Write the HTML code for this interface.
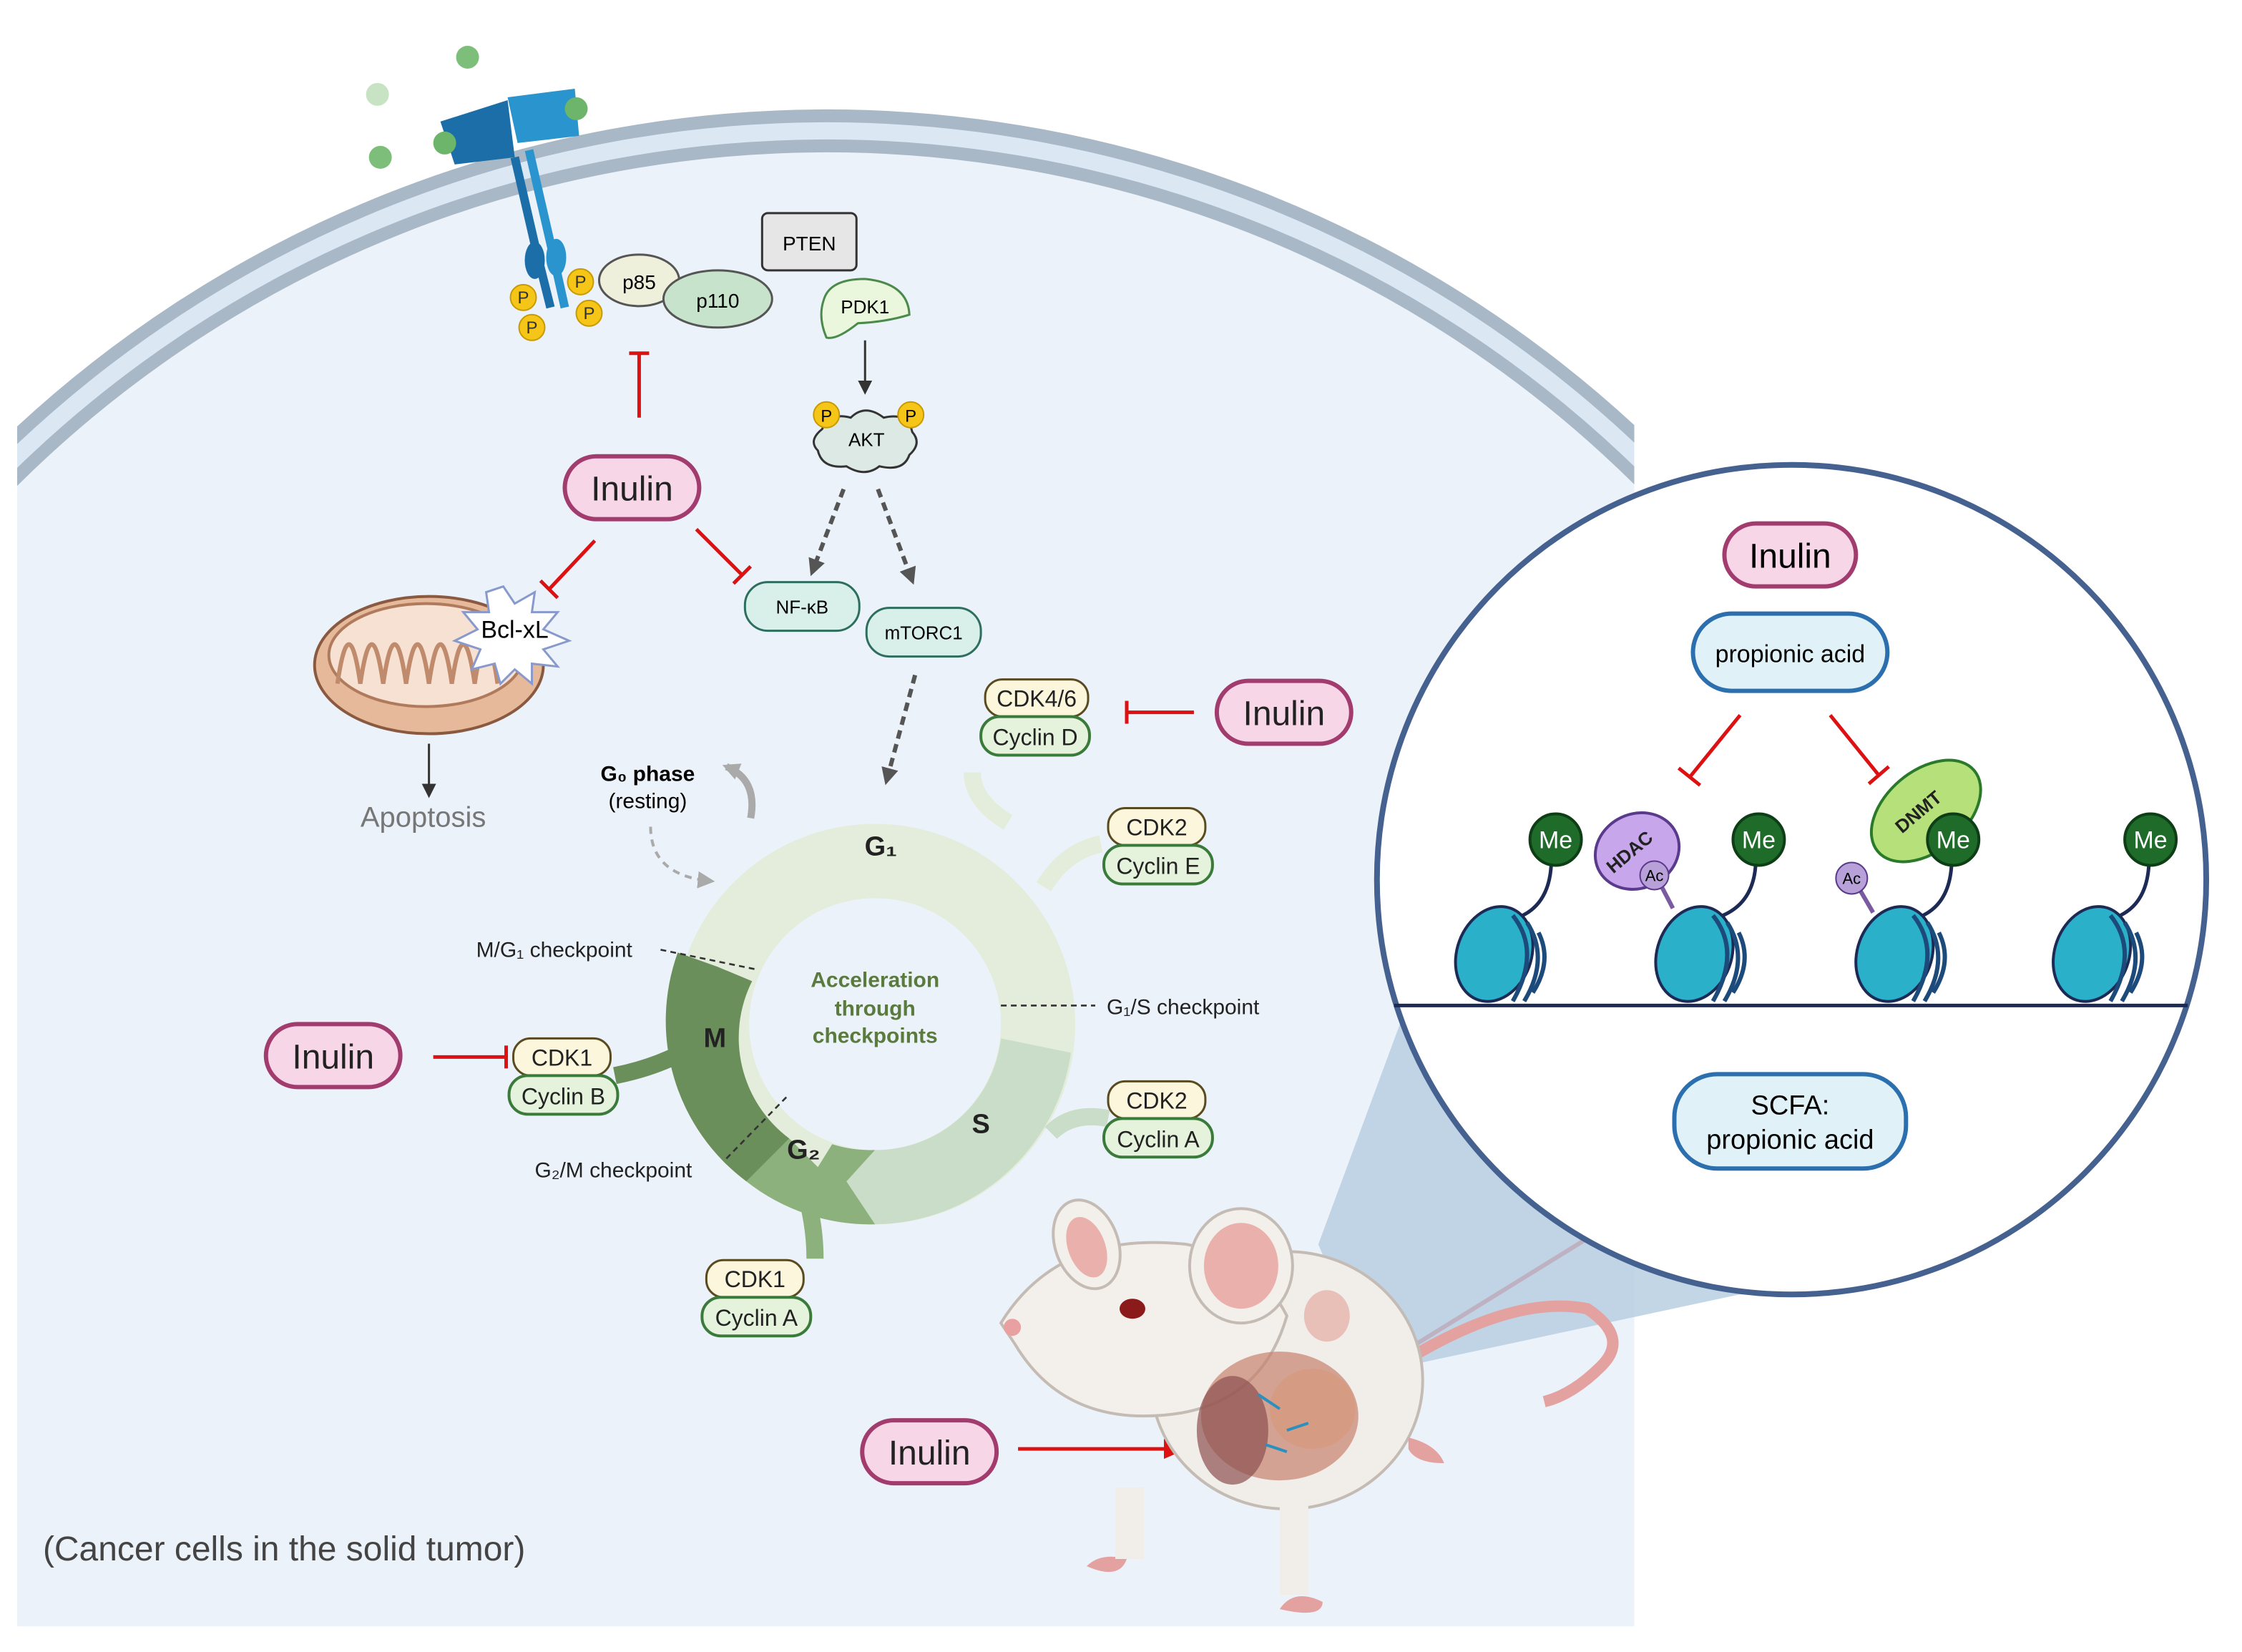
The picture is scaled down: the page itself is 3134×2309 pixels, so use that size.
<!DOCTYPE html>
<html><head><meta charset="utf-8"><style>
html,body{margin:0;padding:0;background:#fff;overflow:hidden;width:3134px;height:2309px}
svg{display:block}
text{font-family:"Liberation Sans",sans-serif}
</style></head><body>
<svg width="3134" height="2309" viewBox="0 0 1568 1155" preserveAspectRatio="none" xmlns="http://www.w3.org/2000/svg">
<defs>
<clipPath id="cellclip"><rect x="12" y="0" width="1131" height="1137"/></clipPath>
<marker id="ag" markerUnits="userSpaceOnUse" markerWidth="12" markerHeight="12" refX="9" refY="6" orient="auto"><path d="M0,0 L12,6 L0,12 z" fill="#555"/></marker>
<marker id="agl" markerUnits="userSpaceOnUse" markerWidth="12" markerHeight="12" refX="9" refY="6" orient="auto"><path d="M0,0 L12,6 L0,12 z" fill="#aaa"/></marker>
<marker id="ar" markerUnits="userSpaceOnUse" markerWidth="16" markerHeight="14" refX="12" refY="7" orient="auto"><path d="M0,0 L16,7 L0,14 z" fill="#d11"/></marker>
<marker id="ak" markerUnits="userSpaceOnUse" markerWidth="10" markerHeight="10" refX="8" refY="5" orient="auto"><path d="M0,0 L10,5 L0,10 z" fill="#333"/></marker>
</defs>
<rect width="1568" height="1155" fill="#fff"/>
<g clip-path="url(#cellclip)">
<circle cx="578" cy="910" r="832" fill="#dbe8f4"/>
<circle cx="578" cy="910" r="806" fill="#ecf2fa"/>
<rect x="12" y="910" width="1131" height="227" fill="#ecf2fa"/>
<circle cx="578" cy="910" r="829" fill="none" stroke="#a9b8c6" stroke-width="9"/>
<circle cx="578" cy="910" r="808" fill="none" stroke="#a9b8c6" stroke-width="9"/>
</g>
<!-- receptor -->
<circle cx="327" cy="40" r="8" fill="#7dbf7a"/><circle cx="264" cy="66" r="8" fill="#c8e3c4"/><circle cx="266" cy="110" r="8" fill="#7dbf7a"/>
<path d="M308,85 L355,70 L360,110 L318,115 z" fill="#1b6ea8"/>
<path d="M355,68 L402,62 L405,95 L362,100 z" fill="#2a94cf"/>
<circle cx="403" cy="76" r="8" fill="#6db56b"/><circle cx="311" cy="100" r="8" fill="#6db56b"/>
<path d="M360,110 L375,175 L385,215" stroke="#1b6ea8" stroke-width="6" fill="none"/>
<path d="M370,105 L385,170 L395,215" stroke="#2a94cf" stroke-width="6" fill="none"/>
<ellipse cx="374" cy="182" rx="7" ry="13" fill="#1b6ea8"/><ellipse cx="389" cy="180" rx="7" ry="13" fill="#2a94cf"/>
<g font-size="12" text-anchor="middle" fill="#333">
<circle cx="366" cy="208" r="9" fill="#f5c518" stroke="#c99a00"/><text x="366" y="212">P</text>
<circle cx="372" cy="229" r="9" fill="#f5c518" stroke="#c99a00"/><text x="372" y="233">P</text>
<circle cx="406" cy="197" r="9" fill="#f5c518" stroke="#c99a00"/><text x="406" y="201">P</text>
<circle cx="412" cy="219" r="9" fill="#f5c518" stroke="#c99a00"/><text x="412" y="223">P</text>
</g>
<ellipse cx="447" cy="196" rx="28" ry="18" fill="#eef0dc" stroke="#555" stroke-width="1.5"/><text x="447" y="202" font-size="14" text-anchor="middle">p85</text>
<ellipse cx="502" cy="209" rx="38" ry="20" fill="#c8e3cc" stroke="#555" stroke-width="1.5"/><text x="502" y="215" font-size="14" text-anchor="middle">p110</text>
<rect x="533" y="149" width="66" height="40" rx="4" fill="#e6e6e6" stroke="#333" stroke-width="1.5"/><text x="566" y="175" font-size="14" text-anchor="middle">PTEN</text>
<path d="M576,210 Q580,195 605,195 Q635,198 636,220 Q620,225 600,226 Q585,238 578,236 Q572,222 576,210z" fill="#eaf7dc" stroke="#4a8a4a" stroke-width="1.5"/><text x="605" y="219" font-size="13" text-anchor="middle">PDK1</text>
<line x1="605" y1="238" x2="605" y2="274" stroke="#333" stroke-width="1.5" marker-end="url(#ak)"/>
<path d="M575,300 Q580,288 595,292 Q605,282 618,292 Q635,288 638,302 Q645,310 636,318 Q632,330 615,326 Q605,334 592,326 Q575,328 572,315 Q565,308 575,300z" fill="#dce9e4" stroke="#333" stroke-width="1.5"/>
<text x="606" y="312" font-size="13" text-anchor="middle">AKT</text>
<circle cx="578" cy="290" r="9" fill="#f5c518" stroke="#c99a00"/><text x="578" y="295" font-size="12" text-anchor="middle">P</text>
<circle cx="637" cy="290" r="9" fill="#f5c518" stroke="#c99a00"/><text x="637" y="295" font-size="12" text-anchor="middle">P</text>
<line x1="590" y1="342" x2="568" y2="400" stroke="#555" stroke-width="3" stroke-dasharray="6,4" marker-end="url(#ag)"/>
<line x1="614" y1="342" x2="638" y2="406" stroke="#555" stroke-width="3" stroke-dasharray="6,4" marker-end="url(#ag)"/>
<line x1="640" y1="472" x2="620" y2="546" stroke="#555" stroke-width="3" stroke-dasharray="6,4" marker-end="url(#ag)"/>
<rect x="521" y="407" width="80" height="34" rx="16" fill="#d9efea" stroke="#2e6e5e" stroke-width="1.5"/><text x="561" y="429" font-size="13" text-anchor="middle">NF-κB</text>
<rect x="606" y="425" width="80" height="34" rx="16" fill="#d9efea" stroke="#2e6e5e" stroke-width="1.5"/><text x="646" y="447" font-size="13" text-anchor="middle">mTORC1</text>
<g font-size="24" text-anchor="middle" fill="#222">
<rect x="395" y="319" width="94" height="44" rx="22" fill="#f7d6e7" stroke="#a23c6e" stroke-width="3"/><text x="442" y="350">Inulin</text>
<rect x="851" y="476" width="94" height="44" rx="22" fill="#f7d6e7" stroke="#a23c6e" stroke-width="3"/><text x="898" y="507">Inulin</text>
<rect x="186" y="716" width="94" height="44" rx="22" fill="#f7d6e7" stroke="#a23c6e" stroke-width="3"/><text x="233" y="747">Inulin</text>
<rect x="603" y="993" width="94" height="44" rx="22" fill="#f7d6e7" stroke="#a23c6e" stroke-width="3"/><text x="650" y="1024">Inulin</text>
</g>
<g stroke="#d11" stroke-width="2.5" fill="none">
<line x1="447" y1="292" x2="447" y2="247"/><line x1="440" y1="247" x2="454" y2="247"/>
<line x1="416" y1="378" x2="384" y2="412"/><line x1="378" y1="406" x2="390" y2="418"/>
<line x1="487" y1="370" x2="519" y2="402"/><line x1="513" y1="408" x2="525" y2="396"/>
<line x1="835" y1="498" x2="788" y2="498"/><line x1="788" y1="490" x2="788" y2="506"/>
<line x1="303" y1="739" x2="354" y2="739"/><line x1="354" y1="731" x2="354" y2="747"/>
<line x1="712" y1="1013" x2="826" y2="1013" marker-end="url(#ar)"/>
<line x1="990" y1="940" x2="1178" y2="824" stroke-width="3" marker-end="url(#ar)"/>
</g>
<!-- mitochondria -->
<ellipse cx="300" cy="465" rx="80" ry="48" fill="#e7b99b" stroke="#8a5a40" stroke-width="2"/>
<ellipse cx="298" cy="458" rx="68" ry="36" fill="#f7e1d2" stroke="#b07a5c" stroke-width="2"/>
<path d="M236,478 q8,-55 16,0 q8,-55 16,0 q8,-55 16,0 q8,-55 16,0 q8,-55 16,0 q8,-55 16,0 q8,-55 16,0" fill="none" stroke="#c08a6c" stroke-width="3"/>
<polygon points="352,410 360,422 374,414 372,428 390,428 380,440 398,448 380,454 390,466 372,464 372,478 360,468 350,478 346,464 330,468 336,454 318,448 334,440 324,428 342,428 340,414" fill="#fff" stroke="#8899cc" stroke-width="1.5"/>
<text x="360" y="446" font-size="17" text-anchor="middle">Bcl-xL</text>
<line x1="300" y1="520" x2="300" y2="556" stroke="#333" stroke-width="1.5" marker-end="url(#ak)"/>
<text x="296" y="578" font-size="20" text-anchor="middle" fill="#777">Apoptosis</text>
<!-- cell cycle -->
<g transform="translate(612,716)">
<circle r="114" fill="none" stroke="#e4eddc" stroke-width="52"/>
<path d="M137,20 A140,140 0 0 1 0,140 L-20,110 L0,88 A88,88 0 0 0 88,10 z" fill="#c9ddc8"/>
<path d="M0,140 A140,140 0 0 1 -90,110 L-60,80 L-40,100 L-30,84 A88,88 0 0 0 0,88 L-20,110 z" fill="#8db17d"/>
<path d="M-90,110 A140,140 0 0 1 -138,-50 L-110,-40 L-86,-30 A88,88 0 0 0 -60,80 z" fill="#6b8f5a"/>
<circle r="88" fill="#ecf2fa"/>
</g>
<path d="M680,540 q0,20 25,35" stroke="#e4eddc" stroke-width="12" fill="none"/>
<path d="M770,590 q-25,5 -40,30" stroke="#e4eddc" stroke-width="12" fill="none"/>
<path d="M775,782 q-25,-5 -40,10" stroke="#c9ddc8" stroke-width="12" fill="none"/>
<path d="M570,880 q0,-20 -5,-40" stroke="#8db17d" stroke-width="12" fill="none"/>
<path d="M430,752 q25,-5 45,-15" stroke="#6b8f5a" stroke-width="12" fill="none"/>
<path d="M525,572 Q530,545 508,536" stroke="#aaa" stroke-width="5" fill="none" marker-end="url(#agl)"/>
<path d="M455,578 Q455,612 497,616" stroke="#aaa" stroke-width="2" stroke-dasharray="5,4" fill="none" marker-end="url(#agl)"/>
<text x="616" y="598" font-size="19" font-weight="bold" text-anchor="middle" fill="#222">G₁</text>
<text x="686" y="792" font-size="19" font-weight="bold" text-anchor="middle" fill="#222">S</text>
<text x="562" y="810" font-size="19" font-weight="bold" text-anchor="middle" fill="#222">G₂</text>
<text x="500" y="732" font-size="19" font-weight="bold" text-anchor="middle" fill="#222">M</text>
<g font-size="15" font-weight="bold" fill="#5a7a3e" text-anchor="middle"><text x="612" y="690">Acceleration</text><text x="612" y="710">through</text><text x="612" y="729">checkpoints</text></g>
<text x="453" y="546" font-size="15" text-anchor="middle" font-weight="bold">G₀ phase</text>
<text x="453" y="565" font-size="15" text-anchor="middle">(resting)</text>
<g font-size="15" fill="#222">
<text x="333" y="669">M/G₁ checkpoint</text><text x="774" y="709">G₁/S checkpoint</text><text x="374" y="823">G₂/M checkpoint</text></g>
<g stroke="#333" stroke-width="1.3" stroke-dasharray="4,3"><line x1="462" y1="664" x2="530" y2="678"/><line x1="700" y1="703" x2="766" y2="703"/><line x1="508" y1="810" x2="552" y2="765"/></g>
<text x="30" y="1091" font-size="24" fill="#444">(Cancer cells in the solid tumor)</text>
<g font-size="16" text-anchor="middle" fill="#222">
<g><rect x="689" y="475" width="72" height="26" rx="12" fill="#fbf6dc" stroke="#5a4a20" stroke-width="1.5"/><text x="725" y="494">CDK4/6</text>
<rect x="686" y="501" width="76" height="27" rx="13" fill="#e6f3dc" stroke="#3a7a3a" stroke-width="2"/><text x="724" y="521">Cyclin D</text></g>
<g><rect x="775" y="565" width="68" height="26" rx="12" fill="#fbf6dc" stroke="#5a4a20" stroke-width="1.5"/><text x="809" y="584">CDK2</text>
<rect x="772" y="591" width="76" height="27" rx="13" fill="#e6f3dc" stroke="#3a7a3a" stroke-width="2"/><text x="810" y="611">Cyclin E</text></g>
<g><rect x="775" y="756" width="68" height="26" rx="12" fill="#fbf6dc" stroke="#5a4a20" stroke-width="1.5"/><text x="809" y="775">CDK2</text>
<rect x="772" y="782" width="76" height="27" rx="13" fill="#e6f3dc" stroke="#3a7a3a" stroke-width="2"/><text x="810" y="802">Cyclin A</text></g>
<g><rect x="359" y="726" width="68" height="26" rx="12" fill="#fbf6dc" stroke="#5a4a20" stroke-width="1.5"/><text x="393" y="745">CDK1</text>
<rect x="356" y="752" width="76" height="27" rx="13" fill="#e6f3dc" stroke="#3a7a3a" stroke-width="2"/><text x="394" y="772">Cyclin B</text></g>
<g><rect x="494" y="881" width="68" height="26" rx="12" fill="#fbf6dc" stroke="#5a4a20" stroke-width="1.5"/><text x="528" y="900">CDK1</text>
<rect x="491" y="907" width="76" height="27" rx="13" fill="#e6f3dc" stroke="#3a7a3a" stroke-width="2"/><text x="529" y="927">Cyclin A</text></g>
</g>
<!-- funnel -->
<polygon points="922,870 985,700 1240,900 960,960" fill="#b9cfe2" opacity="0.85"/>
<!-- zoom circle -->
<circle cx="1253" cy="615" r="290" fill="#fff" stroke="#45618f" stroke-width="4"/>
<rect x="1206" y="366" width="92" height="44" rx="22" fill="#f7d6e7" stroke="#a23c6e" stroke-width="3"/><text x="1252" y="397" font-size="24" text-anchor="middle">Inulin</text>
<rect x="1184" y="429" width="136" height="54" rx="27" fill="#e1f1f8" stroke="#2c6fae" stroke-width="3"/><text x="1252" y="463" font-size="17" text-anchor="middle">propionic acid</text>
<g stroke="#d11" stroke-width="2.5"><line x1="1217" y1="500" x2="1182" y2="543"/><line x1="1174" y1="537" x2="1189" y2="549"/><line x1="1280" y1="500" x2="1314" y2="542"/><line x1="1307" y1="548" x2="1321" y2="536"/></g>
<path d="M975,703 L1530,703" stroke="#1c2a55" stroke-width="2.5" fill="none"/>
<g stroke="#1c2a55" stroke-width="2.5" fill="none">
<path d="M1065,640 Q1085,630 1085,600"/>
<path d="M1205,640 Q1228,630 1228,600"/>
<path d="M1345,640 Q1365,630 1365,600"/>
<path d="M1483,640 Q1503,630 1503,600"/>
</g>
<g id="nuc">
<ellipse cx="1045" cy="667" rx="26" ry="34" fill="#2ab0c8" stroke="#1c2a55" stroke-width="2" transform="rotate(20 1045 667)"/>
<g stroke="#1c4a7a" stroke-width="3" fill="none"><path d="M1058,640 q20,25 0,60"/><path d="M1068,645 q16,25 -2,55"/><path d="M1076,652 q10,20 -4,42"/></g>
</g>
<use href="#nuc" x="140"/><use href="#nuc" x="280"/><use href="#nuc" x="418"/>
<g font-size="17" fill="#fff" text-anchor="middle">
<circle cx="1088" cy="587" r="18" fill="#1e6b2a" stroke="#0e3e16" stroke-width="2"/><text x="1088" y="593">Me</text>
<circle cx="1230" cy="587" r="18" fill="#1e6b2a" stroke="#0e3e16" stroke-width="2"/><text x="1230" y="593">Me</text>
<circle cx="1504" cy="587" r="18" fill="#1e6b2a" stroke="#0e3e16" stroke-width="2"/><text x="1504" y="593">Me</text>
</g>
<ellipse cx="1145" cy="595" rx="30" ry="26" fill="#c7a6ec" stroke="#5a3a8a" stroke-width="2" transform="rotate(-25 1145 595)"/>
<text x="1140" y="600" font-size="13" font-weight="bold" text-anchor="middle" transform="rotate(-40 1140 596)" fill="#222">HDAC</text>
<line x1="1158" y1="612" x2="1170" y2="635" stroke="#7a5aa0" stroke-width="3"/>
<circle cx="1157" cy="612" r="10" fill="#b8a0d8" stroke="#5a3a8a"/><text x="1157" y="616" font-size="11" text-anchor="middle">Ac</text>
<line x1="1296" y1="614" x2="1310" y2="638" stroke="#7a5aa0" stroke-width="3"/>
<circle cx="1295" cy="614" r="11" fill="#b8a0d8" stroke="#5a3a8a"/><text x="1295" y="618" font-size="11" text-anchor="middle">Ac</text>
<ellipse cx="1347" cy="567" rx="44" ry="28" fill="#b6e07a" stroke="#2a7a2a" stroke-width="2" transform="rotate(-40 1347 567)"/>
<text x="1342" y="572" font-size="13" font-weight="bold" text-anchor="middle" transform="rotate(-40 1342 568)" fill="#222">DNMT</text>
<circle cx="1366" cy="587" r="18" fill="#1e6b2a" stroke="#0e3e16" stroke-width="2"/><text x="1366" y="593" font-size="17" fill="#fff" text-anchor="middle">Me</text>
<rect x="1171" y="751" width="162" height="66" rx="30" fill="#e1f1f8" stroke="#2c6fae" stroke-width="3"/>
<text x="1252" y="779" font-size="19" text-anchor="middle">SCFA:</text><text x="1252" y="803" font-size="19" text-anchor="middle">propionic acid</text>
<!-- mouse -->
<path d="M985,950 Q1060,905 1110,915 Q1140,935 1120,955 Q1100,975 1080,980" stroke="#e3a2a0" stroke-width="8" fill="none"/>
<ellipse cx="900" cy="965" rx="95" ry="90" fill="#f1eeea" stroke="#c4bcb4" stroke-width="2"/>
<path d="M700,925 Q740,860 830,870 Q880,880 900,920 Q880,990 800,990 Q740,990 710,940 z" fill="#f3f0ec" stroke="#c4bcb4" stroke-width="2"/>
<ellipse cx="760" cy="870" rx="22" ry="32" fill="#f3f0ec" stroke="#c4bcb4" stroke-width="2" transform="rotate(-20 760 870)"/>
<ellipse cx="760" cy="872" rx="13" ry="22" fill="#eab1ac" transform="rotate(-20 760 872)"/>
<ellipse cx="868" cy="885" rx="36" ry="40" fill="#f3f0ec" stroke="#c4bcb4" stroke-width="2"/>
<ellipse cx="868" cy="885" rx="26" ry="30" fill="#eab1ac"/>
<ellipse cx="792" cy="915" rx="9" ry="7" fill="#8b1a1a"/>
<circle cx="708" cy="928" r="6" fill="#e8a0a0"/>
<ellipse cx="895" cy="990" rx="55" ry="45" fill="#c8826e" opacity="0.7"/>
<ellipse cx="862" cy="1000" rx="25" ry="38" fill="#8b5050" opacity="0.7"/>
<ellipse cx="918" cy="985" rx="30" ry="28" fill="#d69a80" opacity="0.8"/>
<g stroke="#2a90c0" stroke-width="2"><line x1="880" y1="975" x2="895" y2="985"/><line x1="900" y1="1000" x2="915" y2="995"/><line x1="885" y1="1010" x2="900" y2="1015"/></g>
<ellipse cx="928" cy="920" rx="16" ry="18" fill="#e8c0b8"/>
<path d="M760,1095 q10,-10 28,-5 q-5,15 -28,5z M895,1125 q10,-15 30,-5 q0,12 -30,5z M985,1005 q20,5 25,18 q-20,0 -25,-10z" fill="#e3a2a0"/>
<path d="M790,1040 L790,1090 M905,1050 L905,1115" stroke="#f1eeea" stroke-width="20"/>
</svg>
</body></html>
